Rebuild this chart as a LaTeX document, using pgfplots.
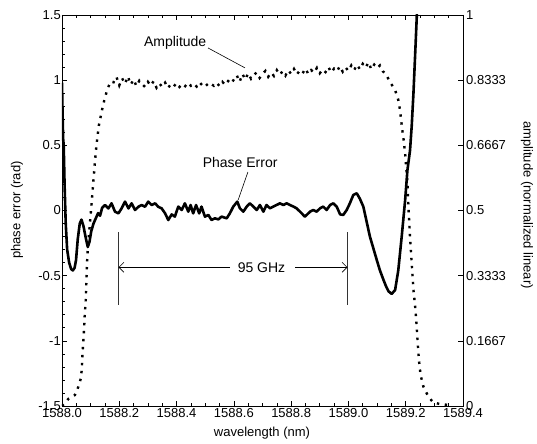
\documentclass[border=0pt]{standalone}
\usepackage{fontspec}
\setmainfont{Liberation Sans}
\usepackage{pgfplots}
\pgfplotsset{compat=1.18}
\usetikzlibrary{arrows.meta}

\pgfplotstableread{
x y
1588.000 0.98
1588.002 0.75
1588.004 0.55
1588.006 0.50
1588.009 0.20
1588.013 -0.10
1588.018 -0.30
1588.025 -0.40
1588.032 -0.45
1588.038 -0.46
1588.044 -0.44
1588.049 -0.38
1588.055 -0.22
1588.062 -0.10
1588.068 -0.07
1588.075 -0.12
1588.082 -0.20
1588.090 -0.28
1588.096 -0.24
1588.102 -0.16
1588.110 -0.10
1588.118 -0.06
1588.126 -0.02
1588.133 -0.04
1588.140 0.02
1588.150 0.042
1588.162 0.016
1588.173 0.055
1588.185 -0.009
1588.197 -0.022
1588.208 0.016
1588.220 0.068
1588.232 0.016
1588.243 0.055
1588.255 0.004
1588.267 0.029
1588.278 0.042
1588.290 0.029
1588.301 0.068
1588.313 0.042
1588.325 0.055
1588.336 0.029
1588.348 0.016
1588.360 -0.022
1588.371 -0.073
1588.383 -0.030
1588.394 -0.047
1588.406 0.030
1588.418 0.004
1588.429 0.055
1588.441 -0.009
1588.449 0.042
1588.458 -0.022
1588.468 0.042
1588.479 -0.022
1588.487 0.030
1588.499 -0.047
1588.511 -0.034
1588.522 -0.073
1588.534 -0.060
1588.546 -0.068
1588.557 -0.047
1588.575 -0.060
1588.586 -0.022
1588.598 0.030
1588.612 0.068
1588.621 0.017
1588.633 -0.009
1588.645 0.030
1588.656 0.055
1588.668 0.030
1588.680 0.004
1588.691 0.042
1588.703 -0.009
1588.714 0.042
1588.726 0.017
1588.738 0.030
1588.749 0.042
1588.761 0.055
1588.773 0.042
1588.784 0.055
1588.796 0.042
1588.808 0.030
1588.819 0.017
1588.837 -0.022
1588.848 -0.047
1588.866 -0.009
1588.877 0.004
1588.889 -0.009
1588.901 0.017
1588.912 0.030
1588.924 0.004
1588.936 0.042
1588.947 0.055
1588.959 0.030
1588.971 -0.030
1588.982 -0.034
1588.994 0.004
1589.005 0.055
1589.017 0.119
1589.029 0.132
1589.040 0.090
1589.052 0.030
1589.063 -0.080
1589.075 -0.200
1589.087 -0.290
1589.099 -0.380
1589.110 -0.460
1589.122 -0.530
1589.131 -0.580
1589.140 -0.620
1589.151 -0.640
1589.163 -0.610
1589.174 -0.460
1589.186 -0.200
1589.198 0.080
1589.206 0.310
1589.215 0.460
1589.221 0.650
1589.227 0.900
1589.234 1.250
1589.240 1.560
}\phasetab

\pgfplotstableread{
x y
1588.000 0.000
1588.010 0.008
1588.022 0.018
1588.045 0.028
1588.057 0.049
1588.066 0.071
1588.069 0.094
1588.072 0.139
1588.076 0.182
1588.079 0.227
1588.083 0.271
1588.085 0.316
1588.087 0.361
1588.090 0.400
1588.096 0.455
1588.103 0.515
1588.109 0.570
1588.115 0.625
1588.120 0.665
1588.125 0.696
1588.129 0.719
1588.135 0.740
1588.141 0.761
1588.148 0.783
1588.156 0.804
1588.163 0.818
1588.170 0.830
1588.18 0.828
1588.19 0.842
1588.20 0.820
1588.21 0.838
1588.22 0.824
1588.23 0.843
1588.24 0.822
1588.25 0.835
1588.26 0.818
1588.27 0.832
1588.28 0.823
1588.29 0.816
1588.30 0.829
1588.31 0.819
1588.32 0.831
1588.33 0.814
1588.34 0.825
1588.35 0.816
1588.36 0.827
1588.37 0.813
1588.38 0.823
1588.39 0.817
1588.40 0.826
1588.41 0.816
1588.42 0.824
1588.43 0.818
1588.44 0.827
1588.45 0.819
1588.46 0.825
1588.47 0.817
1588.48 0.828
1588.49 0.820
1588.50 0.826
1588.51 0.818
1588.52 0.824
1588.53 0.819
1588.54 0.827
1588.55 0.818
1588.56 0.829
1588.57 0.821
1588.58 0.831
1588.59 0.824
1588.60 0.835
1588.61 0.846
1588.62 0.829
1588.63 0.849
1588.64 0.835
1588.65 0.851
1588.66 0.837
1588.67 0.847
1588.68 0.853
1588.69 0.839
1588.70 0.849
1588.71 0.857
1588.72 0.842
1588.73 0.853
1588.74 0.844
1588.75 0.859
1588.76 0.847
1588.77 0.856
1588.78 0.845
1588.79 0.859
1588.80 0.849
1588.81 0.862
1588.82 0.848
1588.83 0.858
1588.84 0.851
1588.85 0.863
1588.86 0.849
1588.87 0.859
1588.88 0.852
1588.89 0.865
1588.90 0.851
1588.91 0.861
1588.92 0.854
1588.93 0.867
1588.94 0.853
1588.95 0.863
1588.96 0.856
1588.97 0.869
1588.98 0.855
1588.99 0.866
1589.00 0.857
1589.01 0.871
1589.02 0.859
1589.03 0.873
1589.04 0.861
1589.05 0.875
1589.06 0.865
1589.07 0.879
1589.08 0.861
1589.09 0.873
1589.10 0.864
1589.11 0.871
1589.12 0.856
1589.13 0.850
1589.145 0.829
1589.163 0.808
1589.174 0.783
1589.180 0.757
1589.184 0.731
1589.188 0.706
1589.192 0.685
1589.198 0.646
1589.206 0.570
1589.210 0.501
1589.215 0.433
1589.221 0.365
1589.227 0.297
1589.233 0.254
1589.238 0.207
1589.242 0.160
1589.246 0.118
1589.252 0.079
1589.262 0.049
1589.279 0.024
1589.296 0.009
1589.320 0.005
1589.345 0.003
}\amptab

\begin{document}
\begin{tikzpicture}[font=\fontsize{13bp}{15bp}\selectfont]
\begin{axis}[
  at={(0,0)}, anchor=south west,
  scale only axis, width=401bp, height=391bp,
  xmin=1588, xmax=1589.4, ymin=-1.5, ymax=1.5,
  xtick={1588,1588.2,1588.4,1588.6,1588.8,1589,1589.2,1589.4},
  xticklabels={1588.0,1588.2,1588.4,1588.6,1588.8,1589.0,1589.2,1589.4},
  minor x tick num=3,
  ytick={-1.5,-1,-0.5,0,0.5,1,1.5},
  yticklabels={-1.5,-1,-0.5,0,0.5,1,1.5},
  minor y tick num=4,
  xtick align=inside, ytick align=inside, ytick pos=left, xtick pos=both,
  major tick length=5bp, minor tick length=3bp,
  axis line style={line width=0.8bp},
  every tick/.append style={line width=0.6bp, black},
  /pgf/number format/assume math mode=true,
  xticklabel style={inner sep=0pt, yshift=-2bp},
  yticklabel style={inner sep=0pt, xshift=-1bp},
]
\addplot[black, line width=2.6bp, line join=round] table[x=x,y=y] {\phasetab};
\node at (axis cs:1588.395,1.285) {\fontsize{14bp}{16bp}\selectfont Amplitude};
\draw[line width=0.6bp] (axis cs:1588.510,1.247) -- (axis cs:1588.639,1.094);
\node at (axis cs:1588.622,0.365) {\fontsize{14bp}{16bp}\selectfont Phase Error};
\draw[line width=0.6bp] (axis cs:1588.649,0.295) -- (axis cs:1588.615,0.081);
\draw[line width=0.8bp, black!80] (axis cs:1588.197,-0.165) -- (axis cs:1588.197,-0.725);
\draw[line width=0.8bp, black!80] (axis cs:1588.997,-0.165) -- (axis cs:1588.997,-0.725);
\node at (axis cs:1588.6966,-0.436) {\fontsize{14bp}{16bp}\selectfont 95 GHz};
\draw[line width=0.7bp, -{Straight Barb[length=5bp,width=10bp]}] (axis cs:1588.587,-0.436) -- (axis cs:1588.197,-0.436);
\draw[line width=0.7bp, -{Straight Barb[length=5bp,width=10bp]}] (axis cs:1588.814,-0.436) -- (axis cs:1588.997,-0.436);
\end{axis}
\begin{axis}[
  at={(0,0)}, anchor=south west,
  scale only axis, width=401bp, height=391bp,
  xmin=1588, xmax=1589.4, ymin=0, ymax=1,
  xtick=\empty,
  ytick={0,0.166667,0.333333,0.5,0.666667,0.833333,1},
  yticklabels={0,0.1667,0.3333,0.5,0.6667,0.8333,1},
  minor y tick num=3,
  ytick align=inside, ytick pos=right,
  major tick length=5bp, minor tick length=3bp,
  axis line style={line width=0.8bp},
  every tick/.append style={line width=0.6bp, black},
  /pgf/number format/assume math mode=true,
  yticklabel style={anchor=west, inner sep=0pt, xshift=3bp},
]
\addplot[black, line width=2.4bp, dash pattern=on 2.4bp off 5.6bp] table[x=x,y=y] {\amptab};
\end{axis}
\node[rotate=90] at (-45bp,196bp) {phase error (rad)};
\node at (200bp,-27bp) {wavelength (nm)};
\node[rotate=-90] at (465bp,201bp) {amplitude (normalized linear)};
\pgfresetboundingbox
\path[use as bounding box] (-62bp,-38bp) rectangle (475bp,406bp);
\end{tikzpicture}
\end{document}
